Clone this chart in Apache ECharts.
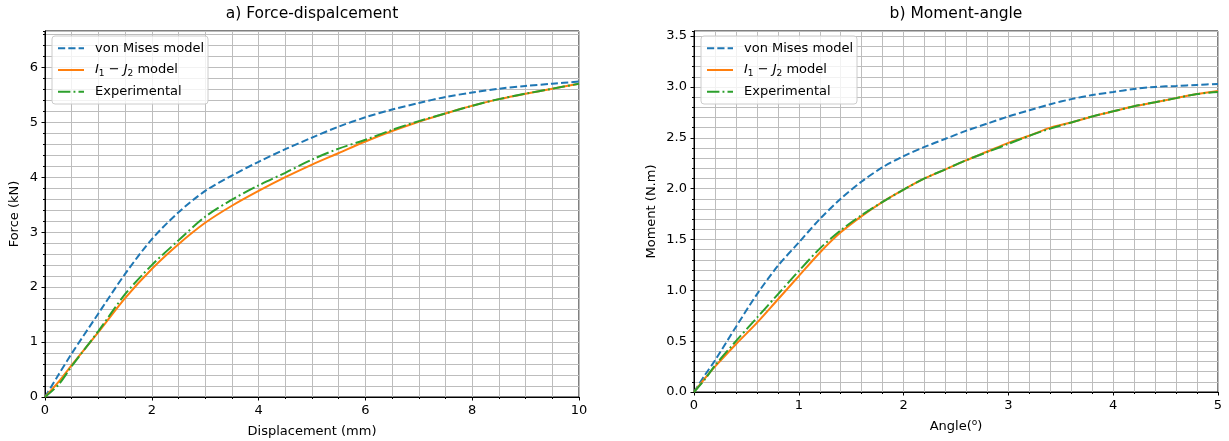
<!DOCTYPE html>
<html><head><meta charset="utf-8">
<script src="https://cdn.jsdelivr.net/npm/echarts@6/dist/echarts.min.js"></script>
<style>html,body{margin:0;padding:0;background:#fff}#c{width:1229px;height:441px}</style>
</head><body><div id="c"></div>
<script>
// ---- data (a) force - displacement ----
const dispX = [0,0.25,0.5,1,1.5,2,2.5,3,3.5,4,4.5,5,5.5,6,6.5,7,7.5,8,8.5,9,9.5,10];
const forceVonMises = [0,0.40,0.79,1.52,2.24,2.87,3.36,3.75,4.03,4.28,4.51,4.72,4.92,5.09,5.23,5.35,5.46,5.54,5.61,5.66,5.70,5.74];
const forceI1J2 = [0,0.27,0.58,1.18,1.80,2.33,2.78,3.17,3.48,3.75,4.00,4.23,4.44,4.65,4.84,5.01,5.16,5.30,5.42,5.52,5.61,5.70];
const forceExp = [0,0.22,0.56,1.20,1.87,2.40,2.85,3.28,3.59,3.85,4.08,4.32,4.52,4.68,4.86,5.02,5.16,5.30,5.42,5.52,5.61,5.70];
// ---- data (b) moment - angle ----
const angleX = [0,0.1,0.2,0.4,0.6,0.8,1.0,1.2,1.4,1.6,1.8,2.0,2.2,2.4,2.6,2.8,3.0,3.2,3.4,3.6,3.8,4.0,4.2,4.4,4.6,4.8,5.0];
const momentVonMises = [0,0.16,0.31,0.64,0.96,1.24,1.47,1.70,1.90,2.07,2.21,2.32,2.41,2.49,2.57,2.64,2.71,2.77,2.83,2.88,2.92,2.95,2.98,3.00,3.01,3.02,3.03];
const momentI1J2 = [0,0.13,0.25,0.47,0.68,0.91,1.14,1.37,1.57,1.73,1.87,1.99,2.10,2.19,2.28,2.365,2.45,2.52,2.60,2.65,2.71,2.76,2.81,2.85,2.89,2.93,2.96];
const momentExp = [0,0.12,0.26,0.50,0.73,0.96,1.19,1.41,1.59,1.74,1.87,1.99,2.10,2.19,2.28,2.36,2.44,2.52,2.59,2.65,2.71,2.76,2.81,2.85,2.89,2.93,2.95];
// ---- tick labels ----
const dispTicks = [0,2,4,6,8,10];
const forceTicks = [0,1,2,3,4,5,6];
const angleTicks = [0,1,2,3,4,5];
const momentTicks = [0,0.5,1,1.5,2,2.5,3,3.5];
const seriesNames = ['von Mises model','I1-J2 model','Experimental'];
const titles = ['a) Force-dispalcement','b) Moment-angle'];

const FONT = 'DejaVu Sans';
const BLUE = '#1f77b4', ORANGE = '#ff7f0e', GREEN = '#2ca02c';
const GRIDC = '#bdbdbd';
const zip = (xs, ys) => xs.map((x, i) => [x, ys[i]]);

function xAxisCfg(gi, ticks, minorSplit, name, nameGap, rich) {
  return {
    type: 'value', gridIndex: gi, min: ticks[0], max: ticks[ticks.length - 1],
    interval: ticks[1] - ticks[0],
    name: name, nameLocation: 'middle', nameGap: nameGap,
    nameTextStyle: {fontFamily: FONT, fontSize: 13, color: '#000', lineHeight: 18, rich: rich || {}},
    axisLine: {show: true, onZero: false, lineStyle: {color: '#000', width: 1}},
    axisTick: {show: true, length: 3.5, lineStyle: {color: '#000', width: 1}},
    minorTick: {show: true, splitNumber: minorSplit, length: 2, lineStyle: {color: '#000', width: 1}},
    axisLabel: {fontFamily: FONT, fontSize: 13, color: '#000', margin: 7},
    splitLine: {show: true, lineStyle: {color: GRIDC, width: 1}},
    minorSplitLine: {show: true, lineStyle: {color: GRIDC, width: 1}}
  };
}
function yMinorAxis(gi, max, minorStep) {
  return {
    type: 'value', gridIndex: gi, position: 'left', offset: 0, min: 0, max: max, interval: minorStep,
    axisLine: {show: true, onZero: false, lineStyle: {color: '#000', width: 1}},
    axisTick: {show: true, length: 2, lineStyle: {color: '#000', width: 1}},
    axisLabel: {show: false},
    splitLine: {show: true, lineStyle: {color: GRIDC, width: 1}}
  };
}
function yMajorAxis(gi, max, ticks, name, nameGap, fmt) {
  return {
    type: 'value', gridIndex: gi, position: 'left', offset: 0, min: 0, max: max,
    interval: ticks[1] - ticks[0],
    name: name, nameLocation: 'middle', nameGap: nameGap,
    nameTextStyle: {fontFamily: FONT, fontSize: 13, color: '#000'},
    axisLine: {show: false},
    axisTick: {show: true, length: 3.5, customValues: ticks, lineStyle: {color: '#000', width: 1}},
    axisLabel: {fontFamily: FONT, fontSize: 13, color: '#000', margin: 7, customValues: ticks,
      formatter: v => (ticks.some(t => Math.abs(t - v) < 1e-9) ? fmt(v) : '')},
    splitLine: {show: false}
  };
}
function legendCfg(left) {
  return {
    orient: 'vertical', left: left, top: 36, data: seriesNames, selectedMode: false,
    itemWidth: 26, itemHeight: 14, itemGap: 5.7,
    padding: [4.3, 4, 4.3, 5],
    itemStyle: {opacity: 0},
    backgroundColor: 'rgba(255,255,255,0.8)', borderColor: '#cccccc', borderWidth: 1, borderRadius: 3,
    formatter: n => n === 'I1-J2 model' ? '{it|I}{sub|1}{n| − }{it|J}{sub|2}{n| model}' : n,
    textStyle: {fontFamily: FONT, fontSize: 13, color: '#000', lineHeight: 16, padding: [0, 0, 0, 6],
      rich: {
        it: {fontFamily: FONT, fontSize: 13, fontStyle: 'italic', color: '#000', lineHeight: 16},
        n: {fontFamily: FONT, fontSize: 13, color: '#000', lineHeight: 16},
        sub: {fontFamily: FONT, fontSize: 9, color: '#000', lineHeight: 10, verticalAlign: 'bottom'}
      }}
  };
}
function lineSeries(name, xi, yi, data, color, dash) {
  return {
    type: 'line', name: name, xAxisIndex: xi, yAxisIndex: yi, data: data,
    symbol: 'none', smooth: 0.3, animation: false,
    lineStyle: {color: color, width: 2, type: dash},
    itemStyle: {color: color}
  };
}
const DASH = [7.2, 3.1], DASHDOT = [12.4, 3.1, 1.9, 3.1];

const chart = echarts.init(document.getElementById('c'), null, {renderer: 'canvas'});
chart.setOption({
  animation: false,
  backgroundColor: '#fff',
  title: [
    {text: titles[0], left: 307, top: 1, textAlign: 'center',
     textStyle: {fontFamily: FONT, fontSize: 15.5, fontWeight: 'normal', color: '#000'}},
    {text: titles[1], left: 951, top: 1, textAlign: 'center',
     textStyle: {fontFamily: FONT, fontSize: 15.5, fontWeight: 'normal', color: '#000'}}
  ],
  grid: [
    {left: 45, right: 650, top: 31, bottom: 44, show: true, borderColor: '#000', borderWidth: 1, backgroundColor: 'transparent', containLabel: false, outerBoundsMode: 'none'},
    {left: 694, right: 11, top: 31, bottom: 49, show: true, borderColor: '#000', borderWidth: 1, backgroundColor: 'transparent', containLabel: false, outerBoundsMode: 'none'}
  ],
  legend: [legendCfg(52), legendCfg(701)],
  xAxis: [
    xAxisCfg(0, dispTicks, 4, 'Displacement (mm)', 26),
    xAxisCfg(1, angleTicks, 5, 'Angle({sup|o})', 26, {sup: {fontFamily: FONT, fontSize: 9, color: '#000', lineHeight: 8, verticalAlign: 'top'}})
  ],
  yAxis: [
    yMinorAxis(0, 6.66, 0.2),
    yMajorAxis(0, 6.66, forceTicks, 'Force (kN)', 23.5, v => String(v)),
    yMinorAxis(1, 3.55, 0.1),
    yMajorAxis(1, 3.55, momentTicks, 'Moment (N.m)', 35.5, v => v.toFixed(1))
  ],
  series: [
    lineSeries(seriesNames[0], 0, 0, zip(dispX, forceVonMises), BLUE, DASH),
    lineSeries(seriesNames[1], 0, 0, zip(dispX, forceI1J2), ORANGE, 'solid'),
    lineSeries(seriesNames[2], 0, 0, zip(dispX, forceExp), GREEN, DASHDOT),
    lineSeries(seriesNames[0], 1, 2, zip(angleX, momentVonMises), BLUE, DASH),
    lineSeries(seriesNames[1], 1, 2, zip(angleX, momentI1J2), ORANGE, 'solid'),
    lineSeries(seriesNames[2], 1, 2, zip(angleX, momentExp), GREEN, DASHDOT)
  ]
});
</script>
</body></html>
